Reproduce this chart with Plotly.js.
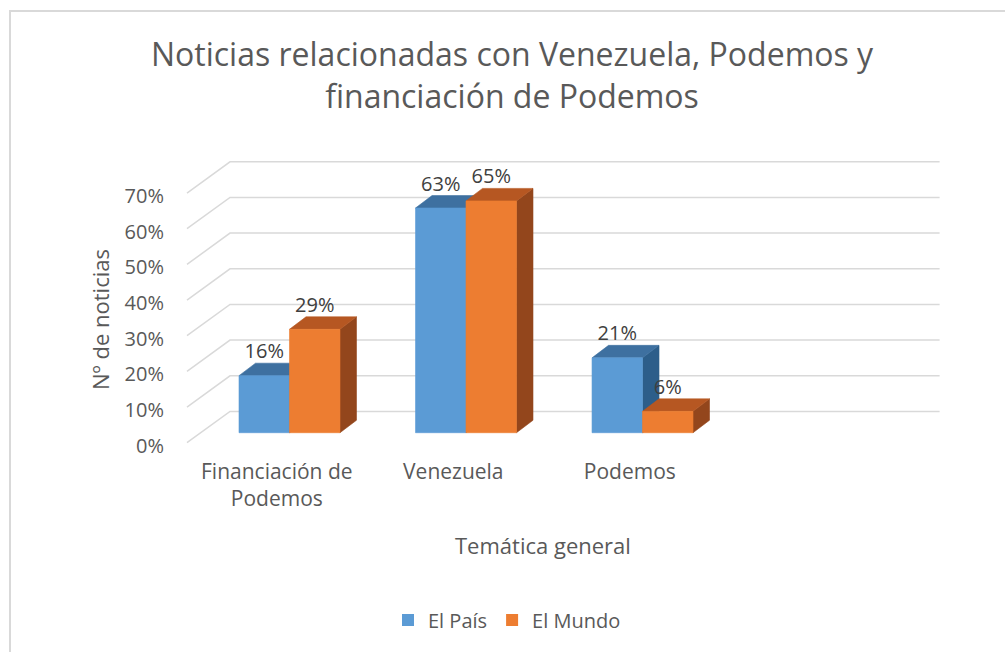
<!DOCTYPE html>
<html>
<head>
<meta charset="utf-8">
<script src="https://cdn.plot.ly/plotly-3.0.1.min.js"></script>
<style>
  html, body { margin: 0; padding: 0; background: #ffffff; }
  #chart { width: 1005px; height: 652px; }
</style>
</head>
<body>
<div id="chart"></div>
<script>
// ---- data ----
const categories = ['Financiación de<br>Podemos', 'Venezuela', 'Podemos'];
const seriesNames = ['El País', 'El Mundo'];
const elPais = [16, 63, 21];
const elMundo = [29, 65, 6];
const yTicks = [0, 10, 20, 30, 40, 50, 60, 70];
const yTickText = ['0%', '10%', '20%', '30%', '40%', '50%', '60%', '70%'];

// ---- style / geometry (data units of the axes) ----
const FONT = '"Open Sans", "Noto Sans", sans-serif';
const barW = 0.286;          // width of each bar (category spacing = 1)
const depthX = 0.0935;       // 3-D depth offset (x)
const depthY = 3.5;          // 3-D depth offset (y, in %)
const floorFront = -2.8;     // front edge of the floor relative to bar base
const wallBack = 5.97;       // back wall relative to bar base
const xFrontLeft = -0.5807;  // left front corner of floor
const xBackLeft = -0.337;    // left back corner of floor
const xBackRight = 3.683;    // right end of back wall
const labelShift = -0.072;   // category label offset (perspective)

// plot area in pixels (for paper-referenced annotations)
const M = {l: 185, r: 64, t: 150, b: 205};
const PW = 1005 - M.l - M.r, PH = 652 - M.t - M.b;
const px = x => (x - M.l) / PW;
const py = y => (652 - M.b - y) / PH;

const colors = {
  pais:  {front: '#5B9BD5', top: '#3E70A0', side: '#2D5E8A'},
  mundo: {front: '#ED7D31', top: '#B65722', side: '#93461C'}
};

function faces(values, x0off) {
  const f = {x: [], y: []}, t = {x: [], y: []}, s = {x: [], y: []};
  values.forEach((v, i) => {
    const x0 = i + x0off, x1 = x0 + barW;
    f.x.push(x0, x1, x1, x0, x0, null);
    f.y.push(0, 0, v, v, 0, null);
    t.x.push(x0, x1, x1 + depthX, x0 + depthX, x0, null);
    t.y.push(v, v, v + depthY, v + depthY, v, null);
    s.x.push(x1, x1 + depthX, x1 + depthX, x1, x1, null);
    s.y.push(0, depthY, v + depthY, v, 0, null);
  });
  return {f, t, s};
}

function poly(p, color) {
  return {
    type: 'scatter', mode: 'lines', x: p.x, y: p.y, fill: 'toself',
    fillcolor: color, line: {color: color, width: 0.6},
    hoverinfo: 'skip', showlegend: false
  };
}

const traces = [];

// gridlines (back wall + side wall diagonals)
const gx = [], gy = [];
yTicks.forEach(t => {
  gx.push(xFrontLeft, xBackLeft, xBackRight, null);
  gy.push(t + floorFront, t + wallBack, t + wallBack, null);
});
traces.push({type: 'scatter', mode: 'lines', x: gx, y: gy,
  line: {color: '#D9D9D9', width: 1.5}, hoverinfo: 'skip', showlegend: false});

const fp = faces(elPais, -barW);
const fm = faces(elMundo, 0);
traces.push(poly(fp.s, colors.pais.side), poly(fp.t, colors.pais.top), poly(fp.f, colors.pais.front));
traces.push(poly(fm.s, colors.mundo.side), poly(fm.t, colors.mundo.top), poly(fm.f, colors.mundo.front));

// data labels
function labels(values, x0off) {
  return {
    type: 'scatter', mode: 'text',
    x: values.map((v, i) => i + x0off + barW / 2),
    y: values.map(v => v + depthY),
    text: values.map(v => v + '%'),
    textposition: 'top center',
    textfont: {family: FONT, size: 20, color: '#404040'},
    hoverinfo: 'skip', showlegend: false, cliponaxis: false
  };
}
traces.push(labels(elPais, -barW), labels(elMundo, 0));

// legend entries
traces.push({type: 'bar', x: [null], y: [null], name: seriesNames[0], marker: {color: colors.pais.front}});
traces.push({type: 'bar', x: [null], y: [null], name: seriesNames[1], marker: {color: colors.mundo.front}});

const layout = {
  width: 1005, height: 652,
  paper_bgcolor: '#ffffff', plot_bgcolor: 'rgba(0,0,0,0)',
  margin: M,
  font: {family: FONT, color: '#595959'},
  title: {
    text: 'Noticias relacionadas con Venezuela, Podemos y<br>financiación de Podemos',
    font: {family: FONT, size: 32, color: '#595959'},
    x: 512 / 1005, xanchor: 'center', xref: 'container',
    y: 1 - 66 / 652, yanchor: 'top', yref: 'container'
  },
  xaxis: {
    range: [-0.592, 3.691], showgrid: false, zeroline: false, showline: false,
    tickvals: categories.map((c, i) => i + labelShift), ticktext: categories,
    tickfont: {family: FONT, size: 21, color: '#595959'},
    ticks: '', ticklabelstandoff: 10, fixedrange: true
  },
  yaxis: {
    range: [-4.0, 79.27], showgrid: false, zeroline: false, showline: false,
    tickvals: yTicks.map(t => t + floorFront - 0.8), ticktext: yTickText,
    tickfont: {family: FONT, size: 20, color: '#595959'},
    ticks: '', ticklabelstandoff: 20, fixedrange: true
  },
  annotations: [
    {text: 'Temática general', xref: 'paper', yref: 'paper',
     x: px(543), y: py(545), xanchor: 'center', yanchor: 'middle', showarrow: false,
     font: {family: FONT, size: 22, color: '#595959'}},
    {text: 'Nº de noticias', xref: 'paper', yref: 'paper', textangle: -90,
     x: px(100), y: py(320), xanchor: 'center', yanchor: 'middle', showarrow: false,
     font: {family: FONT, size: 22, color: '#595959'}}
  ],
  shapes: [
    {type: 'rect', xref: 'paper', yref: 'paper',
     x0: px(10), x1: px(1010), y0: py(660), y1: py(11),
     line: {color: '#D9D9D9', width: 2}, fillcolor: 'rgba(0,0,0,0)', layer: 'below'}
  ],
  legend: {
    orientation: 'h', xref: 'container', yref: 'container',
    x: 507 / 1005, xanchor: 'center', y: 1 - 620 / 652, yanchor: 'middle',
    font: {family: FONT, size: 20, color: '#595959'}, bgcolor: 'rgba(0,0,0,0)'
  },
  showlegend: true
};

Plotly.newPlot('chart', traces, layout, {displayModeBar: false, staticPlot: true});
</script>
</body>
</html>
